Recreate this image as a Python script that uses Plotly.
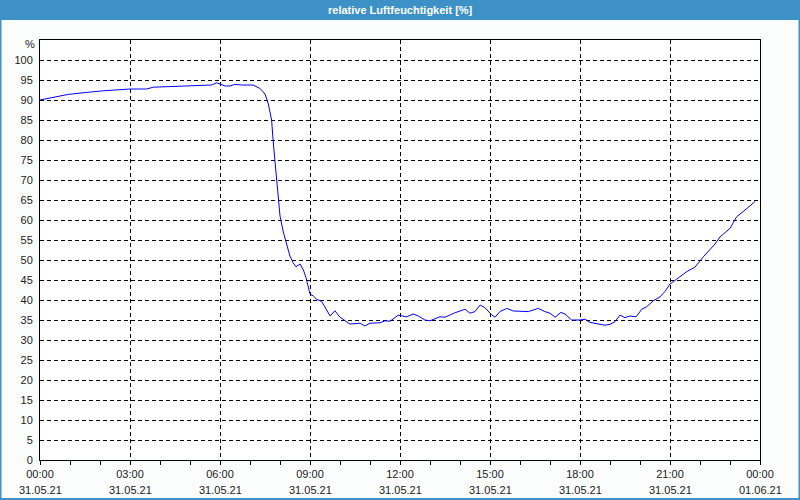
import plotly.graph_objects as go
from datetime import datetime, timedelta

# ---- data ----
hours = [0.0, 0.28, 0.56, 0.94, 1.56, 2.11, 3.0, 3.55, 3.78, 4.67, 5.72, 5.89, 6.0,
         6.17, 6.33, 6.5, 6.72, 6.94, 7.1, 7.33, 7.5, 7.61, 7.72, 7.78, 7.83, 7.89,
         7.94, 8.0, 8.11, 8.22, 8.33, 8.44, 8.53, 8.67, 8.78, 8.87, 9.0, 9.11, 9.22,
         9.39, 9.67, 9.83, 10.0, 10.33, 10.67, 10.83, 11.0, 11.33, 11.5, 11.67, 11.94,
         12.22, 12.44, 12.61, 12.83, 13.0, 13.33, 13.5, 13.83, 14.17, 14.33, 14.5,
         14.67, 14.83, 15.06, 15.17, 15.33, 15.56, 15.78, 16.28, 16.44, 16.61, 16.83,
         17.0, 17.17, 17.36, 17.5, 17.72, 18.0, 18.17, 18.33, 18.61, 18.83, 19.0,
         19.17, 19.33, 19.5, 19.67, 19.87, 20.06, 20.22, 20.44, 20.67, 20.83, 21.0,
         21.22, 21.56, 21.83, 22.11, 22.5, 22.67, 23.0, 23.22, 23.44, 23.83]
humidity = [90.0, 90.4, 90.8, 91.4, 91.9, 92.3, 92.75, 92.75, 93.2, 93.5, 93.75, 94.3, 94.0,
            93.5, 93.5, 93.9, 93.75, 93.8, 93.75, 92.9, 91.5, 89.0, 85.0, 79.0, 74.0, 70.0,
            66.0, 61.0, 57.0, 54.0, 51.0, 49.3, 48.3, 49.0, 47.5, 45.5, 41.5, 41.0, 40.2,
            39.6, 36.0, 37.3, 35.7, 34.0, 34.2, 33.5, 34.2, 34.3, 34.8, 34.7, 36.2,
            35.8, 36.5, 36.0, 35.0, 34.8, 35.8, 35.7, 36.8, 37.7, 36.7, 37.1,
            38.75, 38.1, 36.25, 35.7, 37.1, 37.9, 37.25, 37.1, 37.5, 37.9, 37.1,
            36.7, 35.7, 36.9, 36.5, 35.0, 35.0, 35.2, 34.4, 34.0, 33.7, 33.9,
            34.6, 36.2, 35.6, 36.0, 35.8, 37.7, 38.3, 39.8, 40.8, 42.1, 44.0,
            45.2, 47.1, 48.2, 50.8, 54.0, 55.8, 57.9, 60.8, 62.1, 64.6]

tick_times = ["00:00", "03:00", "06:00", "09:00", "12:00", "15:00", "18:00", "21:00", "00:00"]
tick_dates = ["31.05.21"] * 8 + ["01.06.21"]
y_ticks = list(range(0, 101, 5))
title_text = "relative Luftfeuchtigkeit [%]"

start = datetime(2021, 5, 31, 0, 0)
xs = [start + timedelta(hours=h) for h in hours]
tick_vals = [start + timedelta(hours=3 * i) for i in range(len(tick_times))]

fig = go.Figure()
fig.add_trace(go.Scatter(x=xs, y=humidity, mode="lines",
                         line=dict(color="#0000ff", width=1), hoverinfo="skip"))

W, H = 800, 500
ml, mr, mt, mb = 40, 40, 40, 40
pw, ph = W - ml - mr, H - mt - mb
px = lambda p: (p - ml) / pw
py = lambda p: (H - mb - p) / ph

font_fam = "Liberation Sans, DejaVu Sans, sans-serif"
fig.update_layout(
    width=W, height=H,
    margin=dict(l=ml, r=mr, t=mt, b=mb, autoexpand=False),
    paper_bgcolor="#fbfdfc", plot_bgcolor="#ffffff",
    showlegend=False,
    font=dict(family=font_fam, size=11, color="#222222"),
)
fig.update_xaxes(
    range=[start, start + timedelta(hours=24)],
    tickmode="array", tickvals=tick_vals, ticktext=tick_times,
    showgrid=True, gridcolor="#000000", gridwidth=1, griddash="4px,3px",
    showline=True, linecolor="#000000", linewidth=1, mirror=True,
    ticks="outside", ticklen=4, tickcolor="#000000",
    minor=dict(ticks="outside", ticklen=4, tickcolor="#000000", dtick=3600000,
               showgrid=False),
    zeroline=False, tickangle=0, automargin=False,
)
fig.update_yaxes(
    range=[0, 105], tickmode="array", tickvals=y_ticks,
    showgrid=True, gridcolor="#000000", gridwidth=1, griddash="4px,3px",
    showline=True, linecolor="#000000", linewidth=1, mirror=True,
    ticks="", zeroline=False, ticklabelstandoff=4, automargin=False,
)

for tv, d in zip(tick_vals, tick_dates):
    fig.add_annotation(text=d, x=tv, xref="x", yref="paper", y=py(490),
                       showarrow=False, xanchor="center", yanchor="middle",
                       font=dict(size=11, color="#222222", family=font_fam))

# title bar and outer border
fig.add_shape(type="rect", xref="paper", yref="paper",
              x0=px(0), x1=px(W), y0=py(20), y1=py(0),
              fillcolor="#3d91c7", line=dict(width=0), layer="above")
fig.add_shape(type="rect", xref="paper", yref="paper",
              x0=px(0.5), x1=px(W - 0.5), y0=py(H - 1), y1=py(0.5),
              fillcolor="rgba(0,0,0,0)", line=dict(color="#3d91c7", width=2), layer="above")
fig.add_annotation(text=f"<b>{title_text}</b>", xref="paper", yref="paper",
                   x=0.5, y=py(10), showarrow=False,
                   font=dict(color="#ffffff", size=11, family=font_fam),
                   xanchor="center", yanchor="middle")
fig.add_annotation(text="%", xref="paper", yref="paper",
                   x=px(37), y=py(44), showarrow=False, xanchor="right", yanchor="middle",
                   font=dict(size=11, color="#222222", family=font_fam))

fig.write_html("out.html")
